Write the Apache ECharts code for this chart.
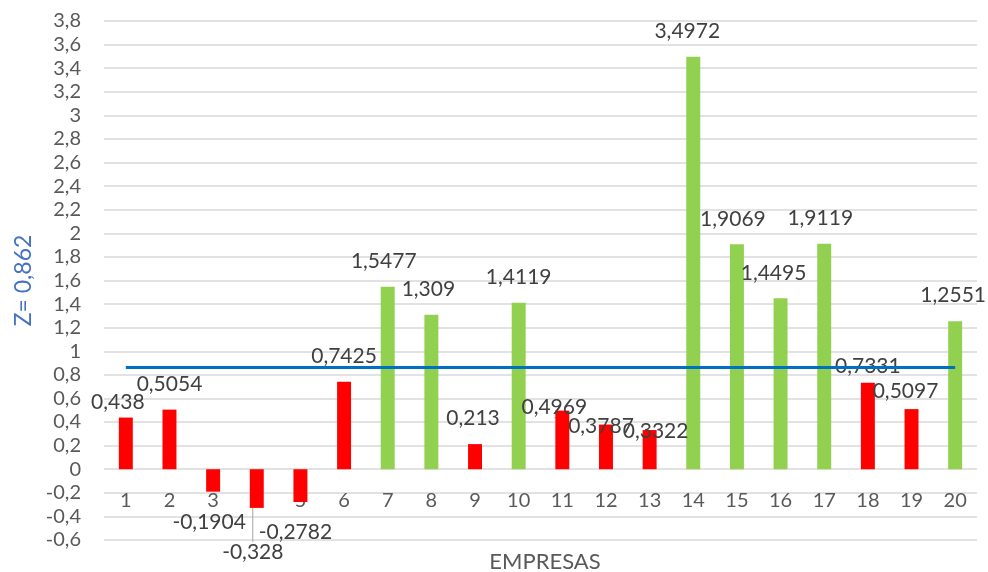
<!DOCTYPE html>
<html>
<head>
<meta charset="utf-8">
<script src="https://cdn.jsdelivr.net/npm/echarts@6/dist/echarts.min.js"></script>
<style>html,body{margin:0;padding:0;background:#fff}#c{width:988px;height:572px}</style>
</head>
<body>
<div id="c"></div>
<script>
const categories = ['1','2','3','4','5','6','7','8','9','10','11','12','13','14','15','16','17','18','19','20'];
const zValues = [0.438, 0.5054, -0.1904, -0.328, -0.2782, 0.7425, 1.5477, 1.309, 0.213, 1.4119, 0.4969, 0.3787, 0.3322, 3.4972, 1.9069, 1.4495, 1.9119, 0.7331, 0.5097, 1.2551];
const threshold = 0.862;
const thresholdLabel = 'Z= 0,862';
const xAxisTitle = 'EMPRESAS';

// label nudges (layout only)
const labelNudge = [[-8,10],[0,0],[-4,0],[-4,14],[-5,0],[0,0],[-4,0],[-3,0],[-2,0],[0,0],[-8,22],[-5,27],[6,27],[-6,0],[-4,0],[-7,0],[-4,0],[0,9],[-6,8],[-2,0]];
const leaderIdx = [3, 10];

const FONT = 'Lato';
const fmt = v => String(v).replace('.', ',');

const barData = zValues.map((v, i) => ({
  value: v,
  itemStyle: { color: v > threshold ? '#92D050' : '#FF0000' },
  label: { position: v < 0 ? 'bottom' : 'top', distance: v < 0 ? 20 : 15 },
  labelLine: { show: leaderIdx.includes(i) }
}));

const chart = echarts.init(document.getElementById('c'));
chart.setOption({
  animation: false,
  textStyle: { fontFamily: FONT },
  title: {
    text: xAxisTitle, left: 540, top: 546, textAlign: 'center',
    textStyle: { fontFamily: FONT, fontSize: 22, fontWeight: 'normal', color: '#595959' }
  },
  grid: { left: 104, right: 11, top: 21, bottom: 32, containLabel: false, outerBoundsMode: 'none' },
  xAxis: {
    type: 'category', data: categories,
    axisLine: { onZero: false, show: false },
    axisTick: { show: false },
    axisLabel: { color: '#595959', fontSize: 20, fontFamily: FONT, margin: -49 },
    splitLine: { show: false }
  },
  yAxis: {
    type: 'value', min: -0.6, max: 3.8, interval: 0.2,
    name: thresholdLabel, nameLocation: 'middle', nameGap: 68, nameRotate: 90,
    nameTextStyle: { color: '#4472C4', fontSize: 23, fontFamily: FONT },
    axisLine: { show: false }, axisTick: { show: false },
    axisLabel: { color: '#595959', fontSize: 20, fontFamily: FONT, margin: 23,
      formatter: v => fmt(Math.round(v * 10) / 10) },
    splitLine: { lineStyle: { color: '#D9D9D9', width: 1.5 } }
  },
  series: [
    {
      type: 'bar', data: barData, barWidth: '32%',
      label: { show: true, color: '#404040', fontSize: 21, fontFamily: FONT,
        formatter: p => fmt(p.value) },
      labelLine: { lineStyle: { color: '#A6A6A6', width: 1 } },
      labelLayout: p => ({ dx: labelNudge[p.dataIndex][0], dy: labelNudge[p.dataIndex][1] }),
      z: 2
    },
    {
      type: 'line', data: categories.map(() => threshold), symbol: 'none',
      lineStyle: { color: '#0070C0', width: 3 }, z: 3, silent: true
    }
  ]
});
</script>
</body>
</html>
